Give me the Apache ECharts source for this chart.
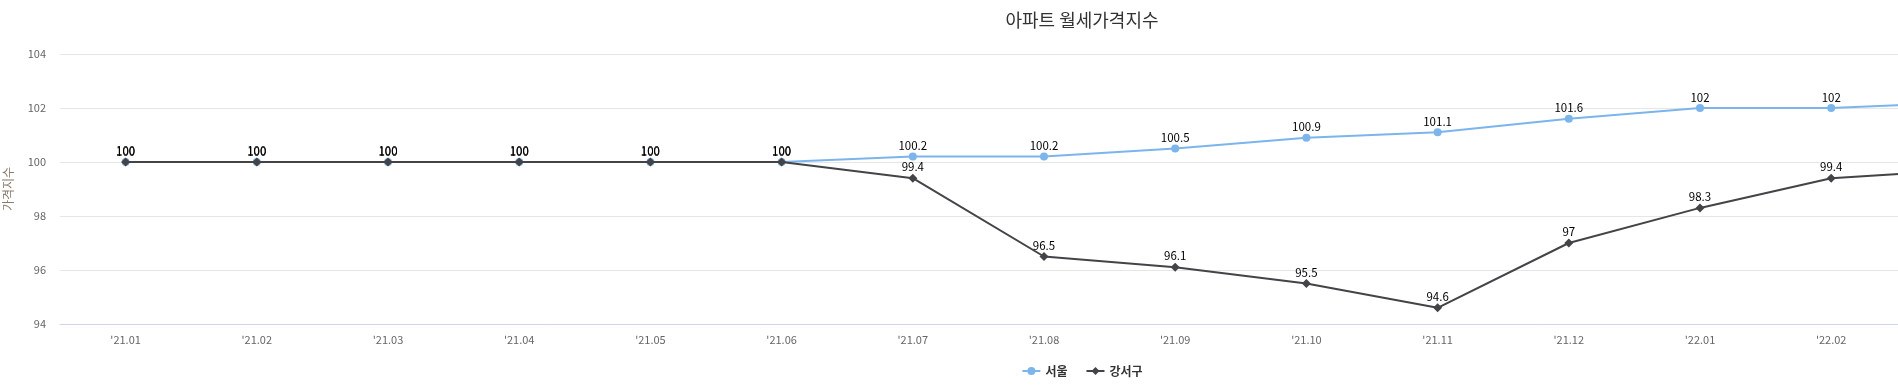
<!DOCTYPE html>
<html>
<head>
<meta charset="utf-8">
<script src="https://cdn.jsdelivr.net/npm/echarts@6/dist/echarts.min.js"></script>
<style>
html,body{margin:0;padding:0;overflow:hidden;background:#fff;width:1898px;height:390px;}
#chart{width:2164px;height:390px;}
</style>
</head>
<body>
<div id="chart"></div>
<script>
const categories = ["'21.01","'21.02","'21.03","'21.04","'21.05","'21.06","'21.07","'21.08","'21.09","'21.10","'21.11","'21.12","'22.01","'22.02","'22.03"];
const seoul = [100,100,100,100,100,100,100.2,100.2,100.5,100.9,101.1,101.6,102,102,102.2];
const gangseo = [100,100,100,100,100,100,99.4,96.5,96.1,95.5,94.6,97,98.3,99.4,99.7];
const yTicks = {min:94, max:104, interval:2};

const chart = echarts.init(document.getElementById('chart'), null, {renderer:'canvas'});
const font = '"Noto Sans CJK KR","Noto Sans",sans-serif';
const labelStyle = {show:true, position:'top', distance:1, color:'#000', fontSize:11.5, fontWeight:'normal', fontFamily:font};
chart.setOption({
  animation:false,
  title:{text:'아파트 월세가격지수', left:'center', top:6, textStyle:{fontSize:18, fontWeight:'normal', color:'#333', fontFamily:font}},
  grid:{left:60, right:136, top:54, bottom:66, outerBoundsMode:'none', containLabel:false},
  legend:{top:360, left:'center', itemGap:18, itemWidth:18, itemHeight:10,
    textStyle:{fontSize:12, fontWeight:600, color:'#333', fontFamily:font},
    data:['서울','강서구']},
  xAxis:{type:'category', data:categories, boundaryGap:true,
    axisLine:{lineStyle:{color:'#ccd6eb'}}, axisTick:{show:false},
    axisLabel:{color:'#666', fontSize:11, margin:10, fontFamily:font}},
  yAxis:{type:'value', min:yTicks.min, max:yTicks.max, interval:yTicks.interval,
    name:'가격지수', nameLocation:'middle', nameGap:46, nameTextStyle:{color:'#8a7b6c', fontSize:12, fontFamily:font},
    axisLine:{show:false}, axisTick:{show:false},
    axisLabel:{color:'#666', fontSize:11, margin:14, fontFamily:font},
    splitLine:{lineStyle:{color:'#e6e6e6'}}},
  series:[
    {name:'서울', type:'line', data:seoul, symbol:'circle', symbolSize:8,
      itemStyle:{color:'#7cb5ec'}, lineStyle:{width:2, color:'#7cb5ec'}, label:labelStyle, z:2},
    {name:'강서구', type:'line', data:gangseo, symbol:'diamond', symbolSize:9,
      itemStyle:{color:'#434348'}, lineStyle:{width:2, color:'#434348'}, label:labelStyle, z:3}
  ]
});
</script>
</body>
</html>
